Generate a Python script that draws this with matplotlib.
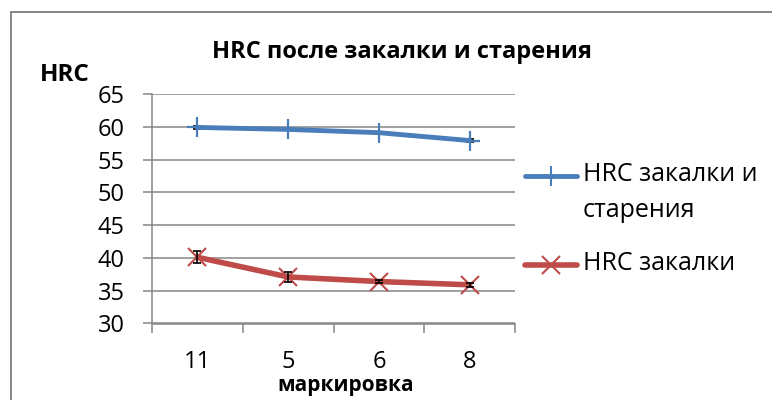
import matplotlib.pyplot as plt
from matplotlib.lines import Line2D

plt.rcParams['font.family'] = ['Open Sans', 'DejaVu Sans']

# data
categories = ['11', '5', '6', '8']
hrc_aged = [59.9, 59.6, 59.1, 57.9]
hrc_aged_err = [0.25, 0.0, 0.0, 0.25]
hrc_quench = [40.1, 37.1, 36.4, 35.9]
hrc_quench_err = [0.9, 0.8, 0.2, 0.3]
label_aged = 'HRC закалки и\nстарения'
label_quench = 'HRC закалки'

blue = '#4A7EBB'
red = '#BE4B48'
grid_col = '#868686'

fig = plt.figure(figsize=(7.72, 4.0), dpi=100)
ax = fig.add_axes([152 / 772, 76.5 / 400, 363 / 772, 229.5 / 400])

x = list(range(len(categories)))

ax.plot(x, hrc_aged, color=blue, lw=3.5, marker='+', ms=15, mew=1.6,
        solid_capstyle='round', zorder=3)
ax.plot(x, hrc_quench, color=red, lw=4.0, marker='x', ms=13, mew=1.5,
        solid_capstyle='round', zorder=3)
ax.errorbar(x, hrc_aged, yerr=hrc_aged_err, fmt='none', ecolor='black',
            elinewidth=1.2, capsize=3, capthick=1.2, zorder=2)
ax.errorbar(x, hrc_quench, yerr=hrc_quench_err, fmt='none', ecolor='black',
            elinewidth=1.2, capsize=3, capthick=1.2, zorder=4)

ax.set_xlim(-0.5, len(categories) - 0.5)
ax.set_ylim(30, 65)
ax.set_yticks(range(30, 66, 5))
ax.set_xticks(x)
ax.set_xticklabels(categories)
ax.set_xticks([i - 0.5 for i in range(len(categories) + 1)], minor=True)

ax.grid(axis='y', color=grid_col, lw=1.1)
ax.set_axisbelow(True)
for s in ['top', 'right']:
    ax.spines[s].set_visible(False)
for s in ['left', 'bottom']:
    ax.spines[s].set_color(grid_col)
    ax.spines[s].set_linewidth(1.1)

ax.tick_params(axis='y', length=6.5, width=1.1, color=grid_col, pad=13,
               labelsize=17)
ax.tick_params(axis='x', which='major', length=0, pad=19, labelsize=17)
ax.tick_params(axis='x', which='minor', length=6.5, width=1.1, color=grid_col)

fig.text(402 / 772, 1 - 52 / 400, 'HRC после закалки и старения',
         ha='center', va='center', fontsize=17, fontweight='bold')
fig.text(65 / 772, 1 - 75 / 400, 'HRC', ha='center', va='center',
         fontsize=17.5, fontweight='bold')
fig.text(346 / 772, 1 - 386 / 400, 'маркировка', ha='center', va='center',
         fontsize=15, fontweight='bold')

# legend drawn by hand so the marker sits on the first text line
for y, col, mk, lw, ms, lab in [(176, blue, '+', 3.5, 15, label_aged),
                                 (265, red, 'x', 4.0, 13, label_quench)]:
    yy = 1 - y / 400
    fig.add_artist(Line2D([525 / 772, 577 / 772], [yy, yy], color=col, lw=lw,
                          solid_capstyle='round'))
    fig.add_artist(Line2D([551 / 772], [yy], color=col, marker=mk, ms=ms,
                          mew=1.5, lw=0))
    fig.text(583 / 772, yy + 14 / 400, lab, ha='left', va='top', fontsize=18,
             linespacing=1.6)

# chart frame and clipped caption from the page
fig.add_artist(Line2D([11 / 772, 11 / 772], [0, 1 - 12 / 400], color=grid_col, lw=1.4))
fig.add_artist(Line2D([11 / 772, 1], [1 - 12 / 400, 1 - 12 / 400], color=grid_col, lw=1.4))
fig.text(8 / 772, 1 - 5 / 400, '1.', ha='left', va='bottom', fontsize=15,
         family=['Liberation Serif', 'DejaVu Serif'])

fig.savefig('out.png', dpi=100)
